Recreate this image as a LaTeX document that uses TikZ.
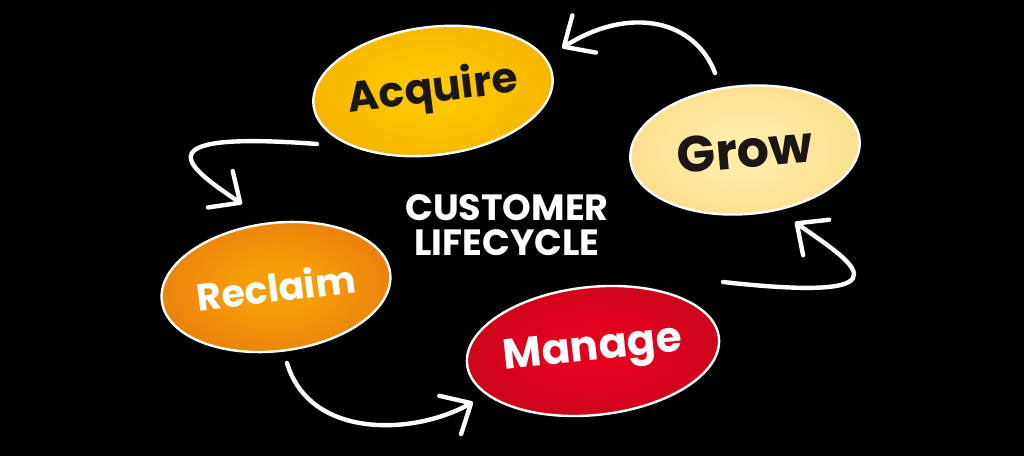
\documentclass[tikz,border=0pt]{standalone}
\usepackage{fontspec}
\setmainfont{Poppins}
\usetikzlibrary{shapes.geometric,arrows.meta,calc}

\definecolor{acquirein}{RGB}{252,198,0}
\definecolor{acquireout}{RGB}{238,158,0}
\definecolor{growin}{RGB}{255,236,168}
\definecolor{growout}{RGB}{244,203,102}
\definecolor{reclaimin}{RGB}{246,158,8}
\definecolor{reclaimout}{RGB}{218,88,22}
\definecolor{managein}{RGB}{228,0,28}
\definecolor{manageout}{RGB}{165,14,26}
\definecolor{ink}{RGB}{26,22,20}

\pgfdeclareradialshading{acquireglow}{\pgfpoint{0bp}{0bp}}{color(0bp)=(acquirein); color(8bp)=(acquirein); color(50bp)=(acquireout)}
\pgfdeclareradialshading{growglow}{\pgfpoint{0bp}{0bp}}{color(0bp)=(growin); color(8bp)=(growin); color(50bp)=(growout)}
\pgfdeclareradialshading{reclaimglow}{\pgfpoint{0bp}{0bp}}{color(0bp)=(reclaimin); color(8bp)=(reclaimin); color(50bp)=(reclaimout)}
\pgfdeclareradialshading{manageglow}{\pgfpoint{0bp}{0bp}}{color(0bp)=(managein); color(8bp)=(managein); color(50bp)=(manageout)}

\tikzset{
  stage/.style={ellipse, draw=white, line width=0.6mm, minimum width=57.5mm, minimum height=32mm, inner sep=0pt, font=\bfseries\fontsize{30}{34}\selectfont},
  arrowline/.style={white, line width=1.1mm, line cap=round, -{Straight Barb[length=6mm,width=11mm,round]}}
}

\begin{document}
\begin{tikzpicture}[x=0.25mm,y=-0.25mm]
\fill[black] (0,0) rectangle (1024,456);
\useasboundingbox (0,0) rectangle (1024,456);

\node[stage, shading=acquireglow, text=ink, rotate=7] (acquire) at (433,91) {Acquire};
\node[stage, shading=growglow, text=ink, rotate=5, font=\bfseries\fontsize{36}{40}\selectfont] (grow) at (745,150) {Grow};
\node[stage, shading=reclaimglow, text=white, rotate=7, font=\bfseries\fontsize{27}{31}\selectfont] (reclaim) at (276,287) {Reclaim};
\node[stage, shading=manageglow, text=white, rotate=6] (manage) at (593,351) {Manage};
\node[white, align=center, font=\bfseries\fontsize{26}{25}\selectfont] (title) at (507,225) {CUSTOMER\\LIFECYCLE};

\draw[arrowline] ($(grow)+(-30,-77)$) .. controls +(-20,-53) and +(68,-43) .. ($(acquire)+(129,-43)$);
\draw[arrowline] ($(acquire)+(-116,53)$) .. controls +(-185,-14) and +(-50,-34) .. ($(reclaim)+(-34,-83)$);
\draw[arrowline] ($(reclaim)+(11,76)$) .. controls +(23,77) and +(-58,33) .. ($(manage)+(-120,51)$);
\draw[arrowline] ($(manage)+(130,-69)$) .. controls +(207,23) and +(45,33) .. ($(grow)+(50,72)$);
\end{tikzpicture}
\end{document}
